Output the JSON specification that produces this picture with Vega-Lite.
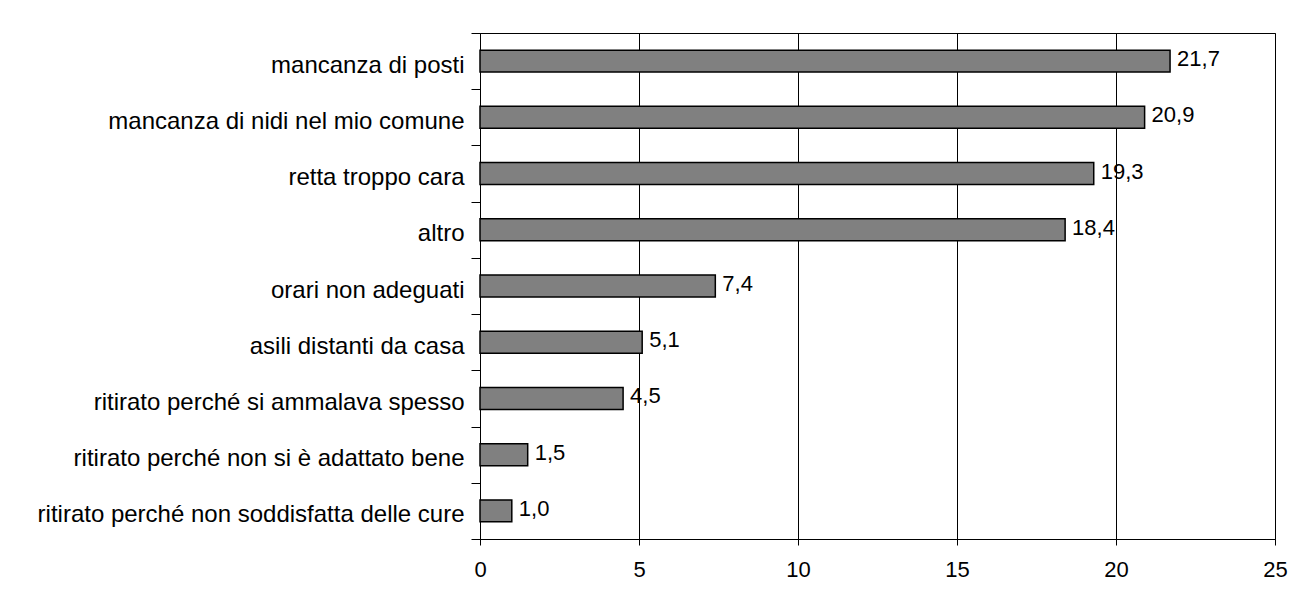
{
  "$schema": "https://vega.github.io/schema/vega-lite/v6.json",
  "width": 795,
  "height": 506,
  "autosize": {"type": "none"},
  "padding": {"left": 480, "top": 33, "right": 22, "bottom": 67},
  "background": "white",
  "config": {
    "locale": {"number": {"decimal": ",", "thousands": ".", "grouping": [3], "currency": ["", " €"]}},
    "view": {"stroke": "#000000", "strokeWidth": 1},
    "font": "Liberation Sans"
  },
  "data": {
    "values": [
      {"motivo": "mancanza di posti", "valore": 21.7},
      {"motivo": "mancanza di nidi nel mio comune", "valore": 20.9},
      {"motivo": "retta troppo cara", "valore": 19.3},
      {"motivo": "altro", "valore": 18.4},
      {"motivo": "orari non adeguati", "valore": 7.4},
      {"motivo": "asili distanti da casa", "valore": 5.1},
      {"motivo": "ritirato perché si ammalava spesso", "valore": 4.5},
      {"motivo": "ritirato perché non si è adattato bene", "valore": 1.5},
      {"motivo": "ritirato perché non soddisfatta delle cure", "valore": 1.0}
    ]
  },
  "encoding": {
    "y": {
      "field": "motivo",
      "type": "nominal",
      "sort": null,
      "scale": {"paddingInner": 0, "paddingOuter": 0},
      "axis": {
        "title": null,
        "labelFontSize": 24,
        "labelFont": "Liberation Sans",
        "labelColor": "#000000",
        "labelPadding": 7,
        "labelLimit": 600,
        "labelOffset": 4,
        "tickSize": 9,
        "tickColor": "#000000",
        "domainColor": "#000000",
        "tickBand": "extent"
      }
    },
    "x": {
      "field": "valore",
      "type": "quantitative",
      "scale": {"domain": [0, 25], "nice": false},
      "axis": {
        "values": [0, 5, 10, 15, 20, 25],
        "title": null,
        "grid": true,
        "gridColor": "#000000",
        "gridOpacity": 1,
        "tickSize": 6,
        "tickColor": "#000000",
        "domainColor": "#000000",
        "labelFontSize": 22,
        "labelFont": "Liberation Sans",
        "labelColor": "#000000",
        "labelPadding": 14,
        "labelFlush": false
      }
    }
  },
  "layer": [
    {"mark": {"type": "bar", "fill": "#808080", "stroke": "#000000", "strokeWidth": 1.5, "height": {"band": 0.39}}},
    {
      "mark": {"type": "text", "align": "left", "baseline": "middle", "dx": 7, "dy": -2, "fontSize": 22, "font": "Liberation Sans", "color": "#000000"},
      "encoding": {"text": {"field": "valore", "type": "quantitative", "format": ".1f"}}
    }
  ]
}
